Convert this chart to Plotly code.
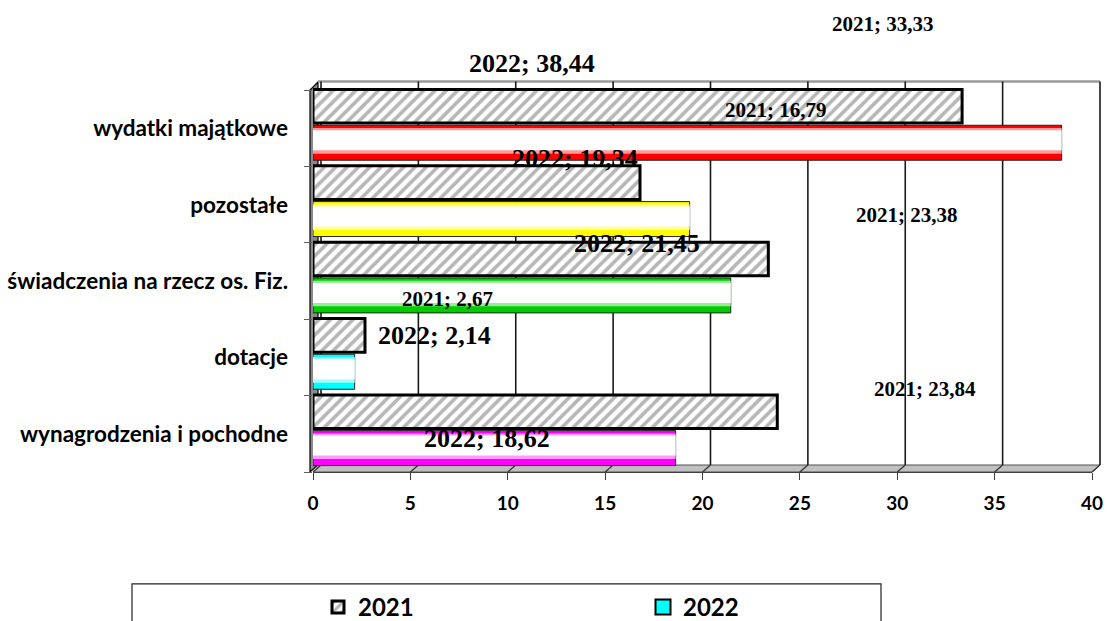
import plotly.graph_objects as go

# ---------------- data ----------------
categories = ["wynagrodzenia i pochodne", "dotacje", "świadczenia na rzecz os. Fiz.",
              "pozostałe", "wydatki majątkowe"]
series_names = ["2021", "2022"]
values_2021 = [23.84, 2.67, 23.38, 16.79, 33.33]
values_2022 = [18.62, 2.14, 21.45, 19.34, 38.44]
x_ticks = [0, 5, 10, 15, 20, 25, 30, 35, 40]

# ---------------- styles / geometry ----------------
colors_2022 = ["#ff00ff", "#00ffff", "#00cc00", "#ffff00", "#ff0000"]
tints_2022 = ["#ff99ff", "#a6ffff", "#99ea99", "#ffff99", "#ff9999"]
legend_color_2022 = "#00ffff"

W, H = 1109, 621
L, R_PX, B_PX = 313, 1092, 472
XMAX = 40
YLO, YHI = -0.5, 4.53
UNIT = 76.4
T_PX = B_PX - (YHI - YLO) * UNIT
PW = R_PX - L
PH = B_PX - T_PX
DX, DY = 8, 7  # 3D depth offset in px


def fx(p):
    return (p - L) / PW


def fy(p):
    return (B_PX - p) / PH


def fmt(v):
    return f"{v:.2f}".replace(".", ",")


# label centre positions in pixels (as placed in the original chart)
label_pos_2021 = [(925, 389), (447, 299), (907, 215), (776, 110), (883, 24)]
label_pos_2022 = [(487, 438), (434, 335), (637, 243), (575, 158), (532, 63)]

SERIF = "Liberation Serif"
SANS = "Lato"

fig = go.Figure()

# 2021 hatched bars
fig.add_trace(go.Bar(
    y=categories, x=values_2021, orientation="h", name=series_names[0],
    offset=0.07, width=0.44,
    marker=dict(color="white", line=dict(color="black", width=3),
                pattern=dict(shape="/", fgcolor="#6e6e6e", bgcolor="white",
                             size=8, solidity=0.45)),
    hoverinfo="skip",
))

# 2022 bars (cylinder-like look built from three layers)
fig.add_trace(go.Bar(
    y=categories, x=values_2022, orientation="h", name=series_names[1],
    offset=-0.416, width=0.458, showlegend=False,
    marker=dict(color=colors_2022, line=dict(color="#222222", width=1)),
    hoverinfo="skip",
))
fig.add_trace(go.Bar(
    y=categories, x=values_2022, orientation="h", name=series_names[1],
    offset=-0.33, width=0.335, showlegend=False,
    marker=dict(color=tints_2022, line=dict(width=0)),
    hoverinfo="skip",
))
fig.add_trace(go.Bar(
    y=categories, x=values_2022, orientation="h", name=series_names[1],
    offset=-0.285, width=0.262, showlegend=False,
    marker=dict(color="white", line=dict(width=0)),
    hoverinfo="skip",
))
# legend entry for 2022
fig.add_trace(go.Scatter(
    x=[None], y=[None], mode="markers", name=series_names[1],
    marker=dict(symbol="square", size=15, color=legend_color_2022,
                line=dict(color="black", width=2)),
))

shapes = []
# floor
shapes.append(dict(
    type="path", xref="paper", yref="paper", layer="below",
    path=(f"M{fx(L)},{fy(B_PX)} L{fx(L + DX)},{fy(B_PX - DY)} "
          f"L{fx(R_PX + DX)},{fy(B_PX - DY)} L{fx(R_PX)},{fy(B_PX)} Z"),
    fillcolor="#c0c0c0", line=dict(color="#505050", width=1),
))
# left wall
shapes.append(dict(
    type="path", xref="paper", yref="paper", layer="below",
    path=(f"M{fx(L - 3)},{fy(B_PX)} L{fx(L - 3)},{fy(T_PX + 2)} "
          f"L{fx(L + 5)},{fy(T_PX - 6)} L{fx(L + 5)},{fy(B_PX - DY)} Z"),
    fillcolor="#8a8a8a", line=dict(color="black", width=1.2),
))
# back wall top edge
shapes.append(dict(
    type="line", xref="paper", yref="paper", layer="below",
    x0=fx(L + 5), x1=fx(R_PX + DX), y0=fy(T_PX - 6.5), y1=fy(T_PX - 6.5),
    line=dict(color="#9a9a9a", width=2.5),
))
for v in x_ticks:
    xb = v / XMAX + DX / PW
    # back-wall gridline
    shapes.append(dict(
        type="line", xref="paper", yref="paper", layer="below",
        x0=xb, x1=xb, y0=fy(B_PX - DY), y1=fy(T_PX - 6.5),
        line=dict(color="#1a1a1a", width=1.6),
    ))
    # floor diagonal
    shapes.append(dict(
        type="line", xref="paper", yref="paper", layer="below",
        x0=v / XMAX, x1=xb, y0=fy(B_PX), y1=fy(B_PX - DY),
        line=dict(color="#333333", width=1.2),
    ))
# legend frame
shapes.append(dict(
    type="rect", xref="paper", yref="paper", layer="below",
    x0=fx(132), x1=fx(881), y0=fy(584), y1=fy(660),
    line=dict(color="#222222", width=1.2), fillcolor="rgba(0,0,0,0)",
))

annotations = []
for i in range(len(categories)):
    px, py = label_pos_2021[i]
    annotations.append(dict(
        xref="paper", yref="paper", x=fx(px), y=fy(py), showarrow=False,
        text=f"{series_names[0]}; {fmt(values_2021[i])}",
        xanchor="center", yanchor="middle",
        font=dict(family=SERIF, size=21, color="black", weight="bold"),
    ))
    px, py = label_pos_2022[i]
    annotations.append(dict(
        xref="paper", yref="paper", x=fx(px), y=fy(py), showarrow=False,
        text=f"{series_names[1]}; {fmt(values_2022[i])}",
        xanchor="center", yanchor="middle",
        font=dict(family=SERIF, size=26, color="black", weight="bold"),
    ))

fig.update_layout(
    width=W, height=H,
    margin=dict(l=L, r=W - R_PX, t=T_PX, b=H - B_PX, autoexpand=False),
    paper_bgcolor="white", plot_bgcolor="rgba(0,0,0,0)",
    barmode="overlay",
    showlegend=True,
    legend=dict(
        orientation="h", x=fx(318), xanchor="left", y=fy(585), yanchor="top",
        entrywidth=280, entrywidthmode="pixels",
        font=dict(family=SANS, size=24, color="black", weight="bold"),
        bgcolor="rgba(0,0,0,0)", borderwidth=0, traceorder="normal",
    ),
    xaxis=dict(
        type="linear", range=[0, XMAX], tickvals=x_ticks,
        showgrid=False, zeroline=False, showline=True,
        linecolor="#404040", linewidth=1.2,
        ticks="outside", ticklen=7, tickcolor="#404040", tickwidth=1.2,
        ticklabelstandoff=7,
        tickfont=dict(family=SANS, size=19, color="black", weight="bold"),
    ),
    yaxis=dict(
        type="category", categoryorder="array", categoryarray=categories,
        range=[YLO, YHI], showgrid=False, zeroline=False, showline=False,
        ticks="outside", tickson="boundaries", ticklen=8, tickcolor="#606060",
        ticklabelstandoff=24,
        tickfont=dict(family=SANS, size=22.5, color="black", weight="bold"),
    ),
    shapes=shapes,
    annotations=annotations,
)

fig.write_html(
    "out.html",
    config={"displayModeBar": False},
    post_script="document.body.style.margin='0px';document.body.style.overflow='hidden';",
)
